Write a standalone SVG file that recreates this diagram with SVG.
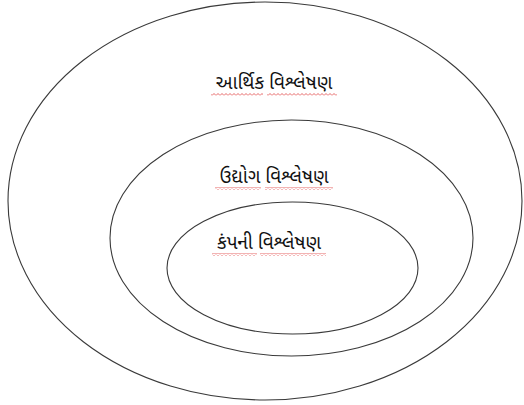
<svg xmlns="http://www.w3.org/2000/svg" width="524" height="405" viewBox="0 0 524 405">
<defs>
<pattern id="wave" x="0" y="0" width="4" height="3" patternUnits="userSpaceOnUse">
<polyline points="0,2.5 2,0.5 4,2.5" fill="none" stroke="#e04040" stroke-width="0.8"/>
</pattern>
</defs>
<style>
.ring{fill:none;stroke:#3a3a3a;stroke-width:1.1}
.lbl{font-family:"Noto Sans Gujarati","Lohit Gujarati","Noto Sans",sans-serif;font-size:19px;fill:#111;text-anchor:middle}
.sq{fill:url(#wave)}
</style>
<rect width="524" height="405" fill="#fff"/>
<g id="outer">
<ellipse class="ring" cx="265" cy="201" rx="257" ry="199"/>
<text class="lbl" x="274" y="89">આર્થિક વિશ્લેષણ</text>
<rect class="sq" x="211" y="93" width="52" height="3"/>
<rect class="sq" x="267" y="93" width="70" height="3"/>
</g>
<g id="middle">
<ellipse class="ring" cx="291.5" cy="238" rx="181.5" ry="118"/>
<text class="lbl" x="274" y="183">ઉદ્યોગ વિશ્લેષણ</text>
<rect class="sq" x="215" y="187" width="46" height="3"/>
<rect class="sq" x="265" y="187" width="68" height="3"/>
</g>
<g id="inner">
<ellipse class="ring" cx="292.5" cy="268" rx="125.5" ry="66"/>
<text class="lbl" x="269" y="249">કંપની વિશ્લેષણ</text>
<rect class="sq" x="212" y="253" width="45" height="3"/>
<rect class="sq" x="260" y="253" width="66" height="3"/>
</g>
</svg>
